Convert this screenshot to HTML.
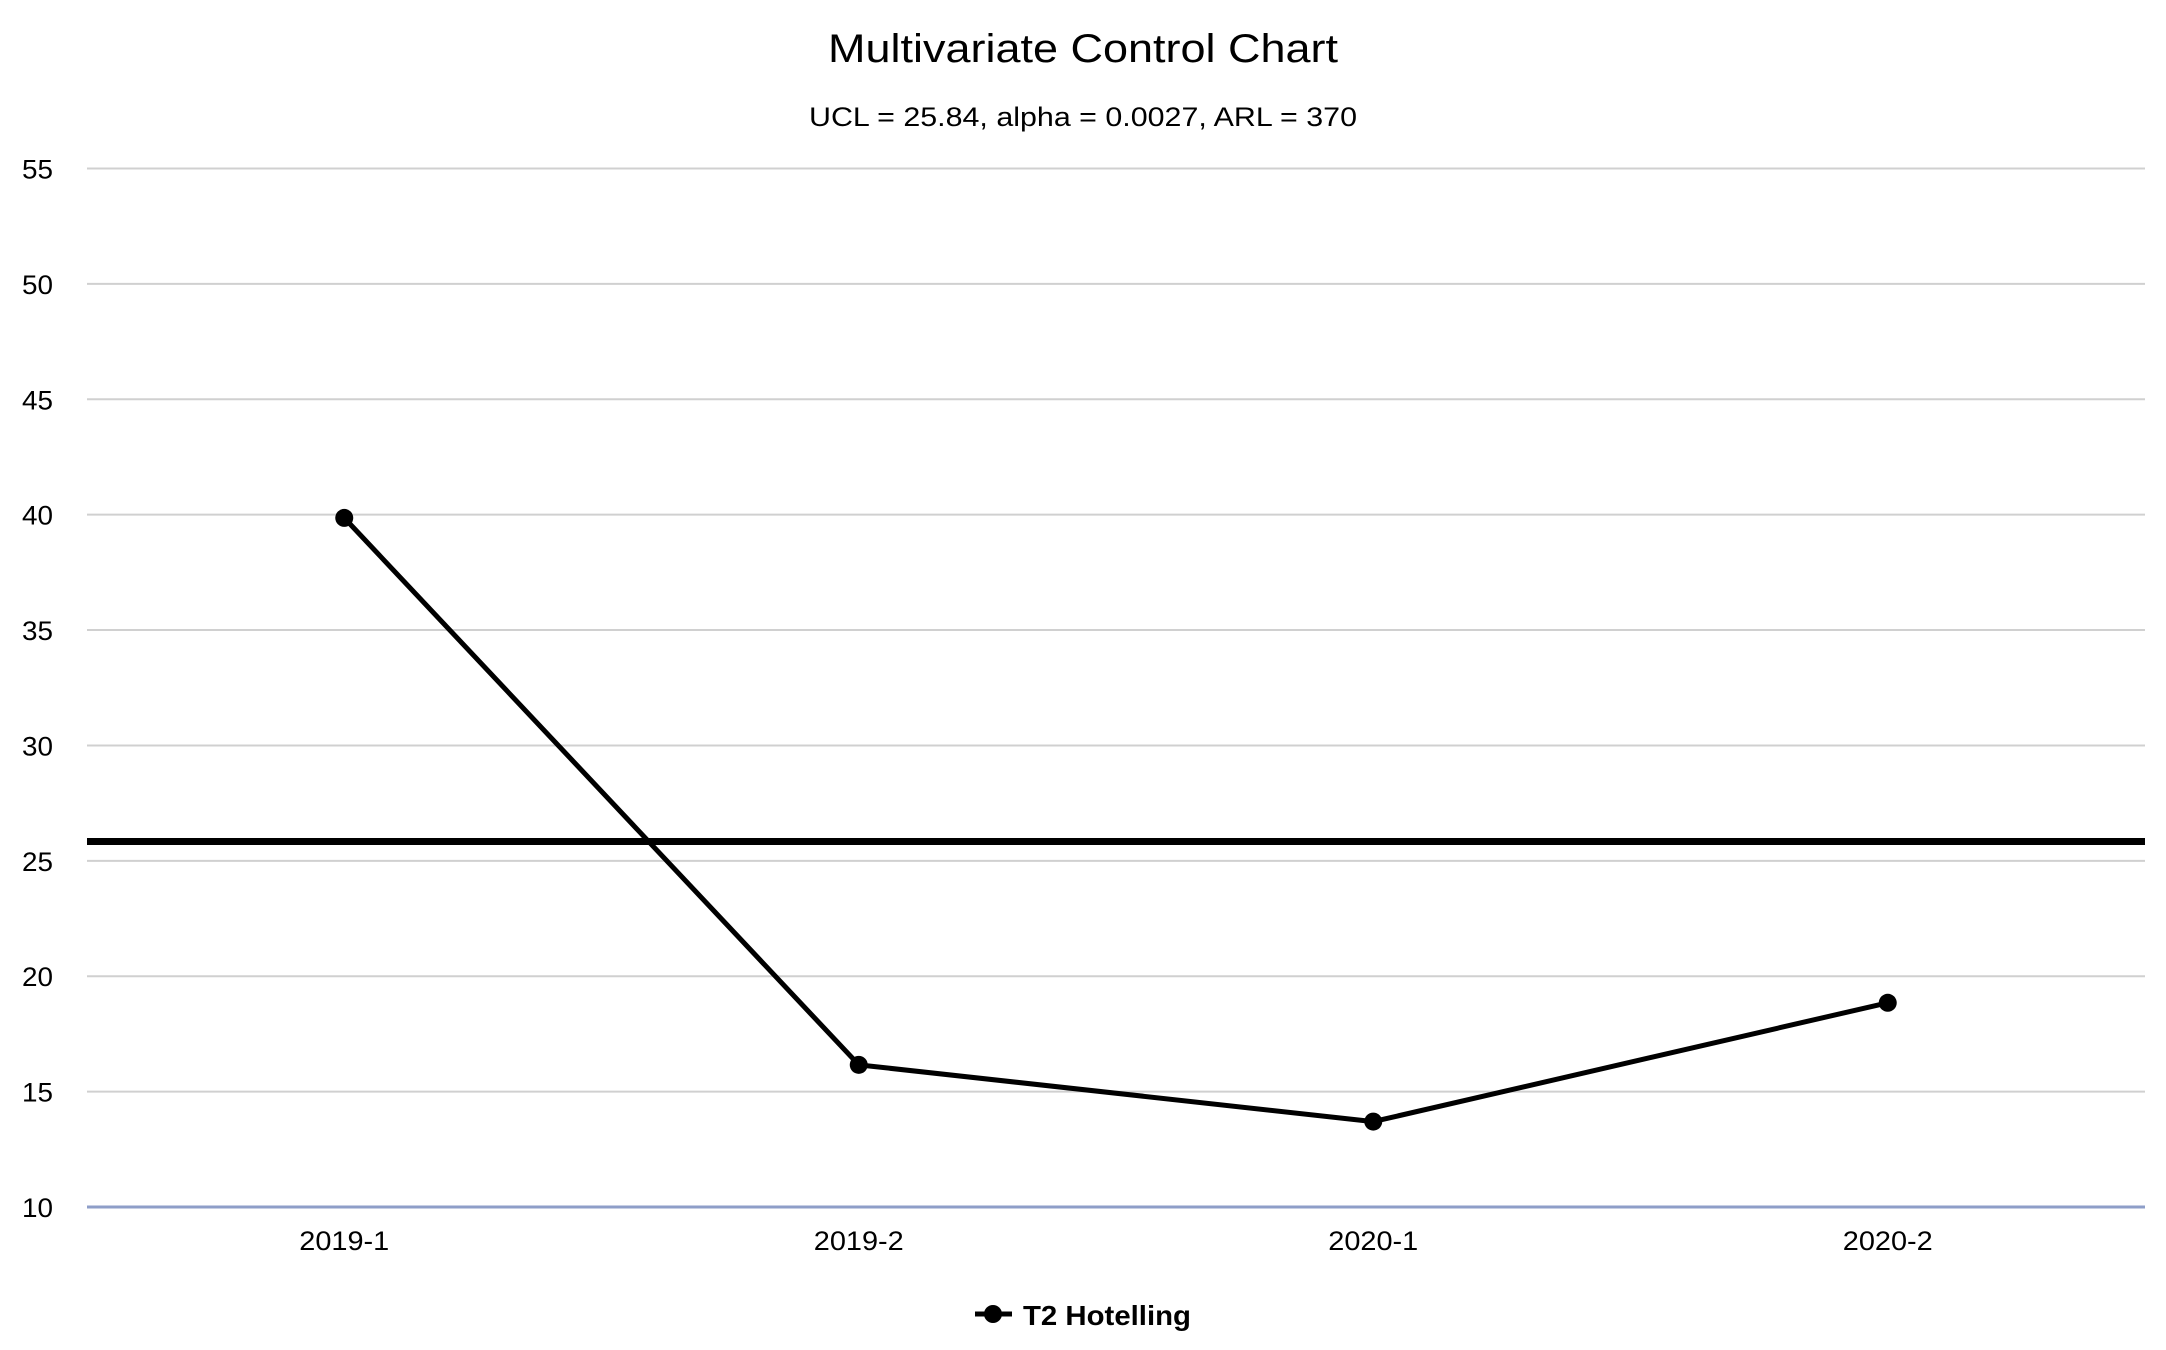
<!DOCTYPE html>
<html><head><meta charset="utf-8"><style>
html,body{margin:0;padding:0;background:#fff;}
svg{display:block;font-family:"Liberation Sans","DejaVu Sans",sans-serif;}
</style></head><body>
<svg id="chart" width="2166" height="1350" viewBox="0 0 2166 1350" xmlns="http://www.w3.org/2000/svg">
<text x="1083" y="62" text-anchor="middle" font-size="40" textLength="510" lengthAdjust="spacingAndGlyphs" fill="#000">Multivariate Control Chart</text>
<text x="1083" y="126" text-anchor="middle" font-size="27" textLength="548" lengthAdjust="spacingAndGlyphs" fill="#000">UCL = 25.84, alpha = 0.0027, ARL = 370</text>
<g id="grid"></g><g id="ylabels"></g><g id="xlabels"></g><g id="series"></g>
<g>
<line x1="975" y1="1314" x2="1012" y2="1314" stroke="#000" stroke-width="5"/>
<circle cx="993" cy="1314" r="9" fill="#000"/>
<text x="1023" y="1325" font-size="28" font-weight="bold" textLength="168" lengthAdjust="spacingAndGlyphs" fill="#000">T2 Hotelling</text>
</g>
</svg>
<script>
const categories = ["2019-1","2019-2","2020-1","2020-2"];
const t2Values = [39.86, 16.16, 13.7, 18.85];
const yTicks = [10,15,20,25,30,35,40,45,50,55];
const ucl = 25.84;

const NS="http://www.w3.org/2000/svg";
const L=87,R=2145,T=168.5,B=1207,yMin=10,yMax=55;
const y=v=>B-(v-yMin)/(yMax-yMin)*(B-T);
const bw=(R-L)/categories.length;
const x=i=>L+bw*(i+0.5);
function mk(tag,attrs,parent){const e=document.createElementNS(NS,tag);for(const k in attrs)e.setAttribute(k,attrs[k]);parent.appendChild(e);return e;}
const grid=document.getElementById('grid'),yl=document.getElementById('ylabels'),xl=document.getElementById('xlabels'),ser=document.getElementById('series');
yTicks.forEach(t=>{
  const ln=mk('line',{x1:L,x2:R,y1:y(t),y2:y(t),stroke:t===yMin?'#8e9ec8':'#d0d0d0','stroke-width':t===yMin?3:2},grid);
  
  
  const tx=mk('text',{x:22,y:y(t)+10,'font-size':27,fill:'#000',textLength:31,lengthAdjust:'spacingAndGlyphs'},yl);
  tx.textContent=t;
  
  
});
categories.forEach((c,i)=>{
  const tx=mk('text',{x:x(i),y:1250,'font-size':27,'text-anchor':'middle',fill:'#000',textLength:90,lengthAdjust:'spacingAndGlyphs'},xl);
  tx.textContent=c;
  
  
});
const u=mk('line',{x1:L,x2:R,y1:y(ucl),y2:y(ucl),stroke:'#000','stroke-width':7},ser);


const p=mk('polyline',{points:t2Values.map((v,i)=>x(i)+','+y(v)).join(' '),fill:'none',stroke:'#000','stroke-width':5,'stroke-linejoin':'round'},ser);


t2Values.forEach((v,i)=>{
  const c=mk('circle',{cx:x(i),cy:y(v),r:9,fill:'#000'},ser);
  
  
});
</script>
</body></html>
